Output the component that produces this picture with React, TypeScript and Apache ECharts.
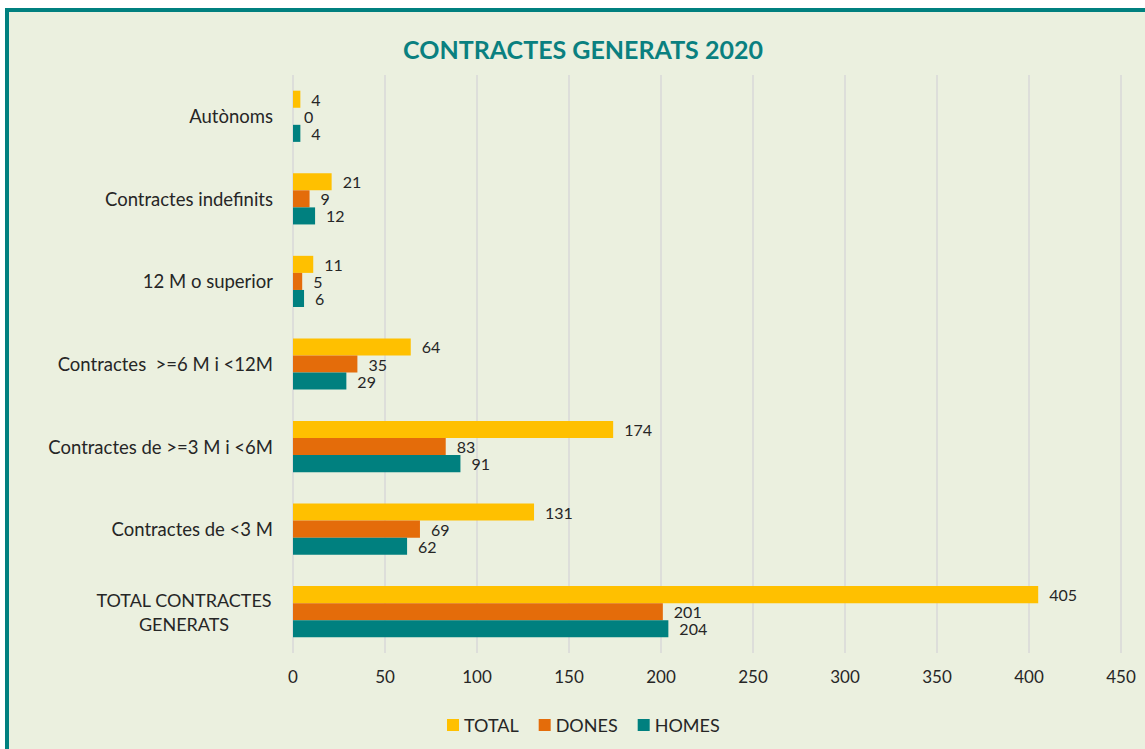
import React, { useEffect, useRef } from "react";
import * as echarts from "echarts";

const categories = [
  "Autònoms",
  "Contractes indefinits",
  "12 M o superior",
  "Contractes  >=6 M i <12M",
  "Contractes de >=3 M i <6M",
  "Contractes de <3 M",
  "TOTAL CONTRACTES GENERATS",
];
const totalValues = [4, 21, 11, 64, 174, 131, 405];
const donesValues = [0, 9, 5, 35, 83, 69, 201];
const homesValues = [4, 12, 6, 29, 91, 62, 204];
const xTicks = { min: 0, max: 450, interval: 50 };

const FONT = "Lato";
const TEXT = "#262626";

export default function App() {
  const ref = useRef<HTMLDivElement>(null);
  useEffect(() => {
    if (!ref.current) return;
    const chart = echarts.init(ref.current, undefined, { renderer: "svg" });
    const label = {
      show: true,
      position: "right" as const,
      distance: 11,
      color: TEXT,
      fontFamily: FONT,
      fontSize: 16,
      lineHeight: 16,
    };
    chart.setOption({
      animation: false,
      title: {
        text: "CONTRACTES GENERATS 2020",
        left: 578,
        textAlign: "center",
        top: 31,
        textStyle: { color: "#0A8080", fontFamily: FONT, fontWeight: "bold", fontSize: 25 },
      },
      legend: {
        top: 711,
        left: 442,
        itemWidth: 12,
        itemHeight: 12,
        itemGap: 20,
        icon: "rect",
        textStyle: { color: TEXT, fontFamily: FONT, fontSize: 18 },
        data: ["TOTAL", "DONES", "HOMES"],
      },
      grid: { left: 293, right: 24, top: 75, bottom: 96, containLabel: false },
      xAxis: {
        type: "value",
        min: xTicks.min,
        max: xTicks.max,
        interval: xTicks.interval,
        axisLine: { show: false },
        axisTick: { show: false },
        axisLabel: { color: TEXT, fontFamily: FONT, fontSize: 17, margin: 15 },
        splitLine: { lineStyle: { color: "#D9D9D9", width: 1.5 } },
      },
      yAxis: {
        type: "category",
        inverse: true,
        data: categories,
        axisLine: { show: false },
        axisTick: { show: false },
        axisLabel: {
          color: TEXT,
          fontFamily: FONT,
          fontSize: 18.5,
          margin: 20,
          formatter: (v: string) =>
            v === "TOTAL CONTRACTES GENERATS"
              ? "{c|TOTAL CONTRACTES}\n{c|GENERATS}"
              : v,
          rich: {
            c: { width: 178, align: "center", color: TEXT, fontFamily: FONT, fontSize: 18, lineHeight: 24 },
          },
        },
      },
      series: [
        { name: "TOTAL", type: "bar", data: totalValues, itemStyle: { color: "#FFC000" }, label, barGap: "0%", barCategoryGap: "38%" },
        { name: "DONES", type: "bar", data: donesValues, itemStyle: { color: "#E46C0A" }, label, barGap: "0%", barCategoryGap: "38%" },
        { name: "HOMES", type: "bar", data: homesValues, itemStyle: { color: "#00807F" }, label, barGap: "0%", barCategoryGap: "38%" },
      ],
    });
    return () => chart.dispose();
  }, []);
  return (
    <div style={{ position: "fixed", left: 0, top: 0, width: 1145, height: 749, background: "#fff" }}>
      <div
        style={{
          position: "absolute",
          left: 5,
          top: 8,
          width: 1160,
          height: 760,
          boxSizing: "border-box",
          border: "4px solid #00807F",
          background: "#EBF0DF",
        }}
      />
      <div ref={ref} style={{ position: "absolute", left: 0, top: 0, width: 1145, height: 749 }} />
    </div>
  );
}
